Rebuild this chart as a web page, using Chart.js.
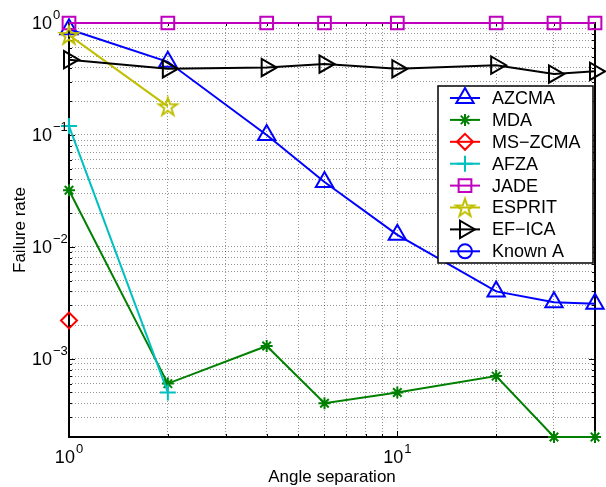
<!DOCTYPE html>
<html>
<head>
<meta charset="utf-8">
<script src="https://cdn.jsdelivr.net/npm/chart.js@4.4.0/dist/chart.umd.min.js"></script>
<style>
  html, body { margin: 0; padding: 0; background: #fff; }
  canvas { display: block; }
</style>
</head>
<body>
<canvas id="myChart" width="606" height="487"></canvas>
<script>
// angle separation values and failure rates per method
const angles = [1, 2, 4, 6, 10, 20, 30, 40];
const azcma = [0.88, 0.45, 0.10, 0.038, 0.0128, 0.0040, 0.0032, 0.0031];
const mda = [0.032, 0.0006, 0.0013, 0.0004, 0.0005, 0.0007, 0.0002, 0.0002];
const msZcma = [0.0022];
const afza = [0.12, 0.0005];
const jade = [1, 1, 1, 1, 1, 1, 1, 1];
const esprit = [0.78, 0.18];
const efIca = [0.47, 0.39, 0.40, 0.43, 0.39, 0.42, 0.35, 0.37];
const knownA = [];

// grid positions (log decades) and the exponents that get a label
const xGrid = [1, 2, 3, 4, 5, 6, 7, 8, 9, 10, 20, 30, 40];
const yGrid = [];
for (let e = -4; e <= -1; e++) {
  for (let m = 1; m <= 9; m++) {
    if (e === -4 && m < 2) continue;
    yGrid.push(Number((m * Math.pow(10, e)).toPrecision(3)));
  }
}
yGrid.push(1);
const xExponents = [0, 1];
const yExponents = [-3, -2, -1, 0];

const FONT = "'Liberation Sans', Arial, Helvetica, sans-serif";

function pentagram(color) {
  const c = document.createElement("canvas");
  c.width = 24;
  c.height = 24;
  const g = c.getContext("2d");
  g.strokeStyle = color;
  g.lineWidth = 2;
  g.beginPath();
  for (let k = 0; k < 10; k++) {
    const r = k % 2 ? 3.7 : 9.5;
    const a = -Math.PI / 2 + (k * Math.PI) / 5;
    const px = 12 + r * Math.cos(a);
    const py = 12.8 + r * Math.sin(a);
    if (k === 0) g.moveTo(px, py);
    else g.lineTo(px, py);
  }
  g.closePath();
  g.stroke();
  return c;
}

const series = [
  { label: "AZCMA", values: azcma, color: "#0000ff", style: "triangle", radius: 10, rotation: 0 },
  { label: "MDA", values: mda, color: "#008000", style: "star", radius: 6, rotation: 0 },
  { label: "MS\u2212ZCMA", values: msZcma, color: "#ff0000", style: "rectRot", radius: 8, rotation: 0 },
  { label: "AFZA", values: afza, color: "#00bfbf", style: "cross", radius: 8, rotation: 0 },
  { label: "JADE", values: jade, color: "#bf00bf", style: "rect", radius: 9, rotation: 0 },
  { label: "ESPRIT", values: esprit, color: "#bfbf00", style: pentagram("#bfbf00"), radius: 9, rotation: 0 },
  { label: "EF\u2212ICA", values: efIca, color: "#000000", style: "triangle", radius: 10, rotation: 90 },
  { label: "Known A", values: knownA, color: "#0000ff", style: "circle", radius: 7, rotation: 0 },
];

const datasets = series.map((s, i) => ({
  label: s.label,
  data: s.values.map((v, j) => ({ x: angles[j], y: v })),
  borderColor: s.color,
  borderWidth: 2,
  pointStyle: s.style,
  pointRadius: s.radius,
  pointRotation: s.rotation,
  pointBorderColor: s.color,
  pointBackgroundColor: "rgba(0,0,0,0)",
  pointBorderWidth: 2,
  tension: 0,
  clip: false,
  order: series.length - i,
}));

// superscript "10^n" text
function drawPower(ctx, exp, x, y, align) {
  const base = "10";
  const sup = exp < 0 ? "\u2212" + Math.abs(exp) : String(exp);
  ctx.font = "18px " + FONT;
  const wb = ctx.measureText(base).width;
  ctx.font = "13px " + FONT;
  const ws = ctx.measureText(sup).width;
  let left = x;
  if (align === "center") left = x - (wb + 1 + ws) / 2;
  ctx.textAlign = "left";
  ctx.textBaseline = "alphabetic";
  ctx.fillStyle = "#000";
  ctx.font = "18px " + FONT;
  ctx.fillText(base, left, y);
  ctx.font = "13px " + FONT;
  ctx.fillText(sup, left + wb + 1, y - 10);
}

const axesDecor = {
  id: "axesDecor",
  beforeDatasetsDraw(chart) {
    const ctx = chart.ctx;
    const a = chart.chartArea;
    const xs = chart.scales.x;
    const ys = chart.scales.y;
    ctx.save();
    // frame, under the data lines
    ctx.strokeStyle = "#000";
    ctx.lineWidth = 2;
    ctx.strokeRect(a.left, a.top, a.right - a.left, a.bottom - a.top);
    // inward tick marks
    ctx.lineWidth = 1;
    ctx.beginPath();
    xGrid.forEach((v) => {
      const px = Math.round(xs.getPixelForValue(v)) + 0.5;
      const len = xExponents.includes(Math.log10(v)) ? 6 : 3;
      ctx.moveTo(px, a.bottom); ctx.lineTo(px, a.bottom - len);
      ctx.moveTo(px, a.top); ctx.lineTo(px, a.top + len);
    });
    yGrid.forEach((v) => {
      const py = Math.round(ys.getPixelForValue(v)) + 0.5;
      const len = Number.isInteger(Math.round(Math.log10(v) * 1e6) / 1e6) ? 6 : 3;
      ctx.moveTo(a.left, py); ctx.lineTo(a.left + len, py);
      ctx.moveTo(a.right, py); ctx.lineTo(a.right - len, py);
    });
    ctx.stroke();
    ctx.restore();
  },
  afterDatasetsDraw(chart) {
    // legend box
    const ctx = chart.ctx;
    const box = { left: 438, top: 86, right: 593, bottom: 263 };
    ctx.save();
    ctx.fillStyle = "#fff";
    ctx.fillRect(box.left, box.top, box.right - box.left, box.bottom - box.top);
    ctx.strokeStyle = "#000";
    ctx.lineWidth = 1.5;
    ctx.strokeRect(box.left, box.top, box.right - box.left, box.bottom - box.top);
    series.forEach((s, i) => {
      const y = box.top + 12 + i * 21.9;
      ctx.strokeStyle = s.color;
      ctx.lineWidth = 2;
      ctx.beginPath();
      ctx.moveTo(450, y);
      ctx.lineTo(480, y);
      ctx.stroke();
      ctx.fillStyle = "rgba(0,0,0,0)";
      Chart.helpers.drawPoint(ctx, {
        pointStyle: s.style, radius: s.radius, rotation: s.rotation, borderWidth: 2,
      }, 465, y);
      ctx.fillStyle = "#000";
      ctx.font = "18px " + FONT;
      ctx.textAlign = "left";
      ctx.textBaseline = "middle";
      ctx.fillText(s.label, 492, y + 1);
    });
    ctx.restore();
  },
  afterDraw(chart) {
    const ctx = chart.ctx;
    const a = chart.chartArea;
    const xs = chart.scales.x;
    const ys = chart.scales.y;
    ctx.save();
    // tick labels
    xExponents.forEach((e) => {
      drawPower(ctx, e, xs.getPixelForValue(Math.pow(10, e)), 463, "center");
    });
    yExponents.forEach((e) => {
      drawPower(ctx, e, 32, ys.getPixelForValue(Math.pow(10, e)) + 6, "left");
    });
    // axis titles
    ctx.fillStyle = "#000";
    ctx.font = "17px " + FONT;
    ctx.textAlign = "center";
    ctx.textBaseline = "alphabetic";
    ctx.fillText("Angle separation", (a.left + a.right) / 2, 482);
    ctx.translate(25, (a.top + a.bottom) / 2);
    ctx.rotate(-Math.PI / 2);
    ctx.fillText("Failure rate", 0, 0);
    ctx.restore();
  },
};

const gridStyle = { color: "rgba(0,0,0,0.42)", lineWidth: 1, drawTicks: false };

new Chart(document.getElementById("myChart").getContext("2d"), {
  type: "line",
  data: { datasets: datasets },
  options: {
    responsive: false,
    animation: false,
    layout: { padding: { top: 23, right: 11, left: 0, bottom: 0 }, autoPadding: false },
    plugins: { legend: { display: false }, tooltip: { enabled: false } },
    scales: {
      x: {
        type: "logarithmic",
        min: 1,
        max: 40,
        afterBuildTicks: (s) => { s.ticks = xGrid.map((v) => ({ value: v })); },
        afterFit: (s) => { s.height = 50; },
        ticks: { display: false },
        grid: gridStyle,
        border: { display: false, dash: [1, 2] },
      },
      y: {
        type: "logarithmic",
        min: 0.0002,
        max: 1,
        afterBuildTicks: (s) => { s.ticks = yGrid.map((v) => ({ value: v })); },
        afterFit: (s) => { s.width = 69; },
        ticks: { display: false },
        grid: gridStyle,
        border: { display: false, dash: [1, 2] },
      },
    },
  },
  plugins: [axesDecor],
});
</script>
</body>
</html>
